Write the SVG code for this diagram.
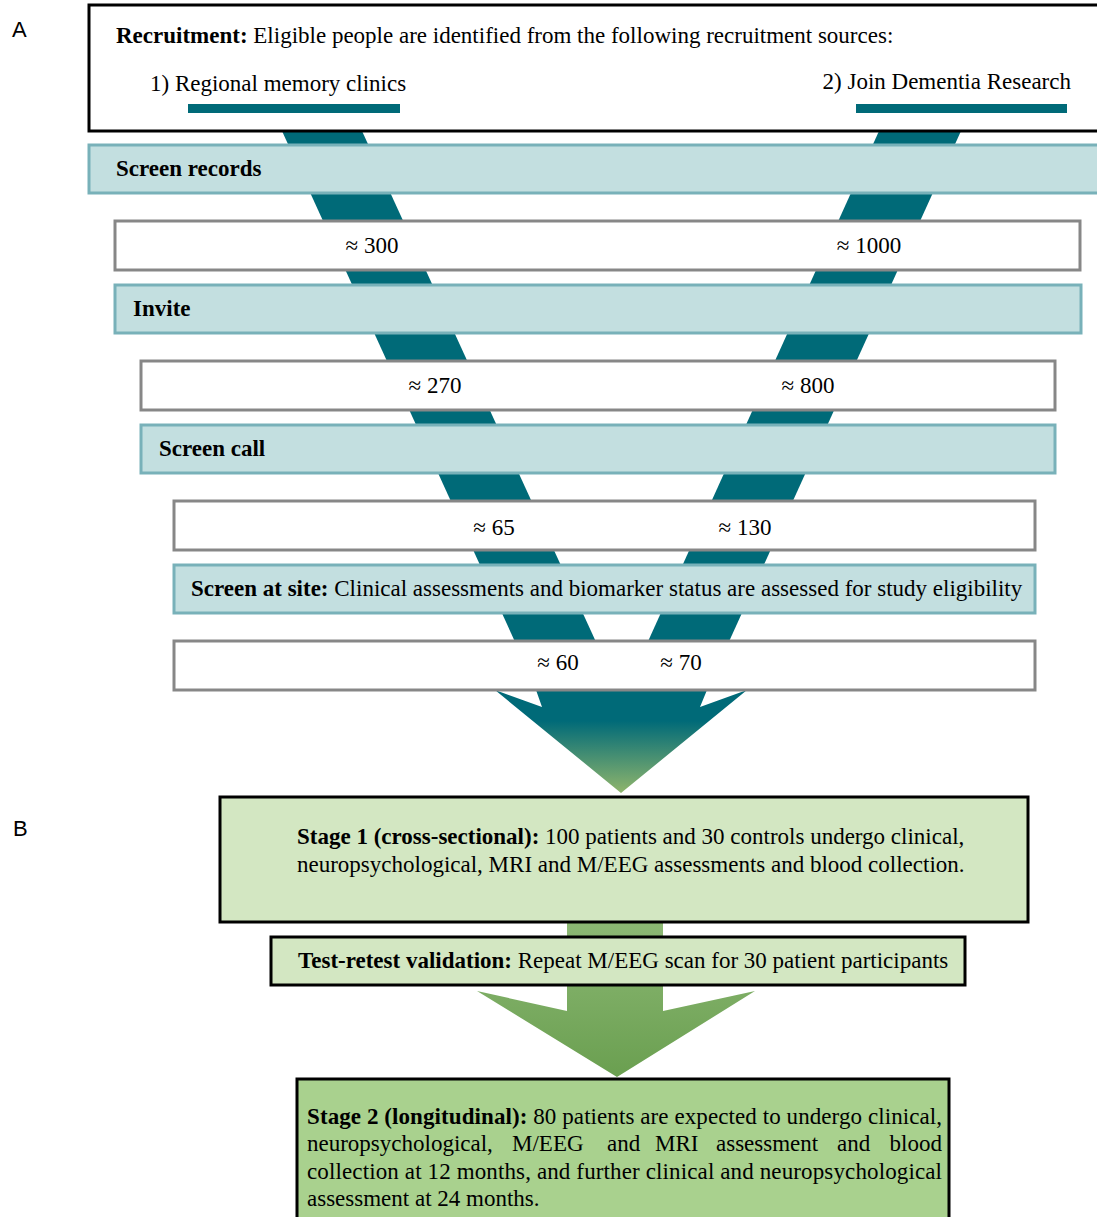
<svg xmlns="http://www.w3.org/2000/svg" width="1097" height="1217" viewBox="0 0 1097 1217">
<defs>
<linearGradient id="tealArrow" x1="0" y1="0" x2="0" y2="1">
<stop offset="0" stop-color="#006a78"/>
<stop offset="0.3" stop-color="#006a78"/>
<stop offset="1" stop-color="#8fb56c"/>
</linearGradient>
<linearGradient id="greenArrow" x1="0" y1="0" x2="0" y2="1">
<stop offset="0" stop-color="#8cb874"/>
<stop offset="1" stop-color="#6a9f50"/>
</linearGradient>
<style>
.t{font-family:"Liberation Serif","Times New Roman",serif;font-size:23px;fill:#000}
.b{font-weight:bold}
.lbl{font-family:"Liberation Sans",Arial,sans-serif;font-size:22px;fill:#000}
.band{fill:#006a78}
.stage{fill:#c3dfe0;stroke:#78b1b9;stroke-width:3}
.count{fill:#fff;stroke:#878787;stroke-width:3}
.black{stroke:#000;stroke-width:3}
.mid{text-anchor:middle}
</style>
</defs>
<rect width="1097" height="1217" fill="#fff"/>
<text class="lbl" x="12" y="37">A</text>
<text class="lbl" x="13" y="836">B</text>

<g id="connectors">
<polygon class="band" points="282,131 362,131 618,690 537,690"/>
<polygon class="band" points="879,131 961,131 707,690 626,690"/>
<polygon fill="url(#tealArrow)" points="495,690 542,707 536,690 707,690 700,707 747,690 621,793"/>
<polygon fill="url(#greenArrow)" points="567,922 663,922 663,1011 755,991 617,1077 477,991 567,1011"/>
</g>

<g id="recruitment">
<rect x="89" y="5" width="1020" height="126" fill="#fff" class="black"/>
<text class="t" x="116" y="43"><tspan class="b">Recruitment:</tspan> Eligible people are identified from the following recruitment sources:</text>
<text class="t" x="150" y="91">1) Regional memory clinics</text>
<text class="t" x="1071" y="89" text-anchor="end">2) Join Dementia Research</text>
<rect x="188" y="104" width="212" height="9" class="band"/>
<rect x="856" y="104" width="211" height="9" class="band"/>
</g>

<g id="screen-records">
<rect x="89" y="145" width="1020" height="48" class="stage"/>
<text class="t b" x="116" y="176">Screen records</text>
</g>
<g id="count-1">
<rect x="115" y="221" width="965" height="49" class="count"/>
<text class="t mid" x="372" y="253">≈ 300</text>
<text class="t mid" x="869" y="253">≈ 1000</text>
</g>
<g id="invite">
<rect x="115" y="285" width="966" height="48" class="stage"/>
<text class="t b" x="133" y="316">Invite</text>
</g>
<g id="count-2">
<rect x="141" y="361" width="914" height="49" class="count"/>
<text class="t mid" x="435" y="393">≈ 270</text>
<text class="t mid" x="808" y="393">≈ 800</text>
</g>
<g id="screen-call">
<rect x="141" y="425" width="914" height="48" class="stage"/>
<text class="t b" x="159" y="456">Screen call</text>
</g>
<g id="count-3">
<rect x="174" y="501" width="861" height="49" class="count"/>
<text class="t mid" x="494" y="535">≈ 65</text>
<text class="t mid" x="745" y="535">≈ 130</text>
</g>
<g id="screen-at-site">
<rect x="174" y="565" width="861" height="48" class="stage"/>
<text class="t" x="191" y="596"><tspan class="b">Screen at site:</tspan> Clinical assessments and biomarker status are assessed for study eligibility</text>
</g>
<g id="count-4">
<rect x="174" y="641" width="861" height="49" class="count"/>
<text class="t mid" x="558" y="670">≈ 60</text>
<text class="t mid" x="681" y="670">≈ 70</text>
</g>

<g id="stage-1">
<rect x="220" y="797" width="808" height="125" fill="#d3e7c2" class="black"/>
<text class="t" x="297" y="844"><tspan class="b">Stage 1 (cross-sectional):</tspan> 100 patients and 30 controls undergo clinical,</text>
<text class="t" x="297" y="872">neuropsychological, MRI and M/EEG assessments and blood collection.</text>
</g>
<g id="test-retest">
<rect x="271" y="937" width="694" height="48" fill="#d3e7c2" class="black"/>
<text class="t" x="298" y="968"><tspan class="b">Test-retest validation:</tspan> Repeat M/EEG scan for 30 patient participants</text>
</g>
<g id="stage-2">
<rect x="297" y="1079" width="652" height="150" fill="#a9d18e" class="black"/>
<text class="t" x="307" y="1124" textLength="635" lengthAdjust="spacing"><tspan class="b">Stage 2 (longitudinal):</tspan> 80 patients are expected to undergo clinical,</text>
<text class="t" y="1151"><tspan x="307">neuropsychological,</tspan><tspan x="512">M/EEG</tspan><tspan x="607">and</tspan><tspan x="655">MRI</tspan><tspan x="716">assessment</tspan><tspan x="837">and</tspan></text>
<text class="t" x="942" y="1151" text-anchor="end">blood</text>
<text class="t" x="307" y="1179" textLength="635" lengthAdjust="spacing">collection at 12 months, and further clinical and neuropsychological</text>
<text class="t" x="307" y="1206">assessment at 24 months.</text>
</g>
</svg>
